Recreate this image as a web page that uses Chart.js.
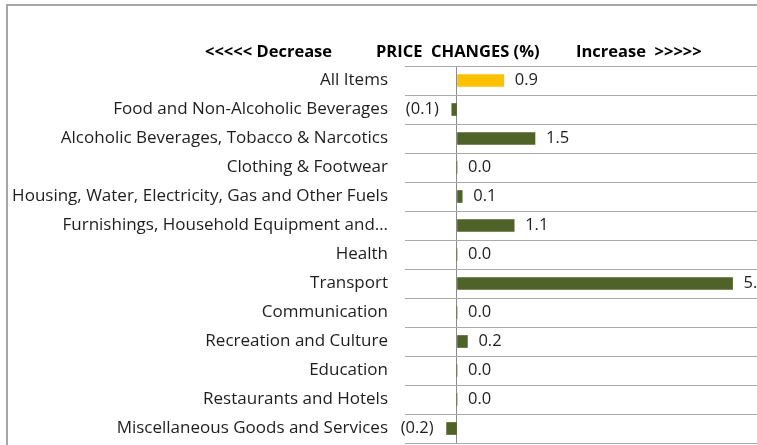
<!DOCTYPE html>
<html>
<head>
<meta charset="utf-8">
<script src="https://cdn.jsdelivr.net/npm/chart.js@4/dist/chart.umd.min.js"></script>
<style>
  html,body{margin:0;padding:0;background:#fff;overflow:hidden;}
  #wrap{position:relative;width:757px;height:445px;}
</style>
</head>
<body>
<div id="wrap"><canvas id="c"></canvas></div>
<script>
/* Price changes (%) by CPI division */
const CATEGORIES = [
  'All Items',
  'Food and Non-Alcoholic Beverages',
  'Alcoholic Beverages, Tobacco & Narcotics',
  'Clothing & Footwear',
  'Housing, Water, Electricity, Gas and Other Fuels',
  'Furnishings, Household Equipment and\u2026',
  'Health',
  'Transport',
  'Communication',
  'Recreation and Culture',
  'Education',
  'Restaurants and Hotels',
  'Miscellaneous Goods and Services'
];
const CHANGES = [0.9, -0.1, 1.5, 0.0, 0.1, 1.1, 0.0, 5.3, 0.0, 0.2, 0.0, 0.0, -0.2];
const HEADINGS = ['<<<<< Decrease', 'PRICE  CHANGES (%)', 'Increase  >>>>>'];
const X_MIN = -1, X_MAX = 5.77;

const YELLOW = '#FFC000', OLIVE = '#4F6228', GRID = '#ababab', AXIS = '#8a8a8a', TXT = '#1e1e1e';
const FONT = '"Open Sans", Lato, sans-serif';

const fmt = v => v < 0 ? '(' + Math.abs(v).toFixed(1) + ')' : v.toFixed(1);

// outer frame + headings above the plot
const headPlugin = {
  id: 'heads',
  beforeDraw(chart){
    const ctx = chart.ctx;
    ctx.save();
    ctx.strokeStyle = '#a6a6a6'; ctx.lineWidth = 2;
    ctx.beginPath();
    ctx.moveTo(7, chart.height); ctx.lineTo(7, 5); ctx.lineTo(chart.width, 5);
    ctx.stroke();
    ctx.restore();
  },
  afterDraw(chart){
    const ctx = chart.ctx;
    ctx.save();
    ctx.font = 'bold 16.5px ' + FONT;
    ctx.fillStyle = '#000';
    ctx.textBaseline = 'middle';
    ctx.textAlign = 'left';
    const xs = [205, 376, 576];
    HEADINGS.forEach((t, i) => ctx.fillText(t, xs[i], 52));
    ctx.restore();
  }
};

// value labels beside each bar
const valPlugin = {
  id: 'vals',
  afterDatasetsDraw(chart){
    const ctx = chart.ctx, meta = chart.getDatasetMeta(0);
    const x0 = chart.scales.x.getPixelForValue(0);
    ctx.save();
    ctx.font = '16.5px ' + FONT;
    ctx.fillStyle = TXT;
    ctx.textBaseline = 'middle';
    meta.data.forEach((bar, i) => {
      const v = CHANGES[i];
      if (v < 0){ ctx.textAlign = 'right'; ctx.fillText(fmt(v), bar.x - 13, bar.y); }
      else { ctx.textAlign = 'left'; ctx.fillText(fmt(v), Math.max(bar.x, x0) + 11, bar.y); }
    });
    ctx.restore();
  }
};

new Chart(document.getElementById('c'), {
  type: 'bar',
  data: {
    labels: CATEGORIES,
    datasets: [{
      data: CHANGES,
      backgroundColor: CHANGES.map((v, i) => i === 0 ? YELLOW : OLIVE),
      barThickness: 12,
      borderWidth: 0
    }]
  },
  options: {
    indexAxis: 'y',
    responsive: true, maintainAspectRatio: false, animation: false,
    layout: { padding: { top: 66, left: 0, right: 0, bottom: 2 } },
    plugins: { legend: { display: false }, tooltip: { enabled: false } },
    scales: {
      x: {
        min: X_MIN, max: X_MAX,
        ticks: { display: false, stepSize: 1 },
        grid: { drawTicks: false, color: c => c.tick && c.tick.value === 0 ? AXIS : 'rgba(0,0,0,0)', lineWidth: 1 },
        border: { display: false }
      },
      y: {
        afterFit: s => { s.width = 405; s.paddingTop = 0; s.paddingBottom = 0; },
        ticks: { color: TXT, font: { family: FONT, size: 17 }, padding: 17, autoSkip: false },
        grid: { offset: true, drawTicks: false, color: GRID, lineWidth: 1 },
        border: { display: false }
      }
    }
  },
  plugins: [headPlugin, valPlugin]
});
</script>
</body>
</html>
